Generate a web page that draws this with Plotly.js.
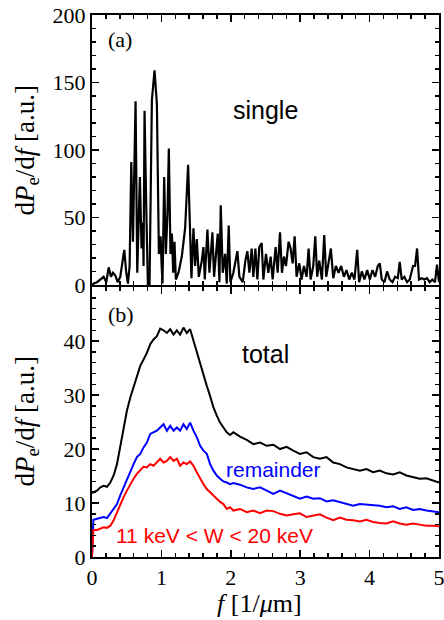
<!DOCTYPE html>
<html>
<head>
<meta charset="utf-8">
<script src="https://cdn.plot.ly/plotly-3.0.1.min.js"></script>
<style>html,body{margin:0;padding:0;background:#fff;}#chart{width:444px;height:620px;}</style>
</head>
<body>
<div id="chart"></div>
<script>
// ---- (a) single ----
const fSingle = [0,0.024,0.072,0.120,0.168,0.206,0.240,0.273,0.302,0.336,0.369,0.407,0.436,0.465,0.494,0.518,0.542,0.566,0.590,0.628,0.652,0.690,0.714,0.733,0.743,0.757,0.781,0.805,0.829,0.863,0.901,0.935,0.964,0.988,1.002,1.016,1.040,1.064,1.088,1.107,1.131,1.151,1.170,1.189,1.208,1.246,1.294,1.342,1.385,1.409,1.433,1.462,1.486,1.510,1.539,1.582,1.606,1.625,1.663,1.692,1.735,1.759,1.788,1.812,1.836,1.855,1.884,1.918,1.942,1.970,1.994,2.037,2.095,2.124,2.172,2.210,2.239,2.268,2.301,2.325,2.354,2.383,2.411,2.445,2.469,2.507,2.541,2.574,2.603,2.646,2.675,2.709,2.737,2.766,2.795,2.833,2.862,2.891,2.920,2.948,2.987,3.020,3.054,3.092,3.121,3.150,3.188,3.217,3.245,3.274,3.313,3.346,3.375,3.408,3.442,3.476,3.514,3.552,3.591,3.629,3.667,3.706,3.744,3.782,3.821,3.849,3.888,3.926,3.965,4.003,4.041,4.080,4.118,4.147,4.175,4.214,4.252,4.290,4.329,4.367,4.406,4.434,4.463,4.501,4.540,4.578,4.626,4.655,4.684,4.712,4.751,4.789,4.827,4.866,4.904,4.942,4.971,5.000];
const single = [0,1,2,4,6,2,13,6,9,7,2,6,16,26,9,1,14,91,32,136,9,80,27,46,14,129,60,0,0,137,159,134,23,36,16,1,80,23,53,101,23,38,9,32,4,9,21,42,89,38,5,42,14,34,6,18,28,4,41,9,39,6,23,38,2,59,9,23,1,44,2,9,25,6,2,18,25,9,27,6,27,4,28,31,4,23,9,21,4,28,9,39,9,21,14,32,27,16,36,6,16,4,14,6,27,4,14,36,6,18,4,37,6,16,27,5,14,9,14,6,11,4,9,4,26,2,10,4,11,4,11,6,14,16,4,2,10,4,2,6,5,17,4,6,2,4,14,14,27,4,5,4,5,2,4,2,15,2];

// ---- (b) total / remainder / 11 keV < W < 20 keV ----
const fTotal = [0,0.02,0.072,0.12,0.168,0.216,0.264,0.312,0.36,0.407,0.455,0.503,0.551,0.599,0.647,0.695,0.743,0.791,0.839,0.887,0.935,0.983,1.031,1.079,1.127,1.175,1.222,1.27,1.318,1.366,1.414,1.462,1.51,1.558,1.606,1.654,1.702,1.75,1.798,1.846,1.894,1.942,1.989,2.037,2.133,2.229,2.325,2.421,2.517,2.613,2.709,2.804,2.9,2.996,3.092,3.188,3.284,3.38,3.476,3.571,3.667,3.763,3.859,3.955,4.051,4.147,4.243,4.339,4.434,4.53,4.626,4.722,4.818,4.914,5.0];
const total = [11.8,12.0,12.3,12.9,13.2,13.0,13.8,15.1,17.2,20.3,24.0,27.1,29.5,31.4,33.5,35.4,36.6,37.8,39.4,40.3,40.9,42.3,42.0,41.5,42.2,41.2,42.0,41.2,42.5,41.5,42.2,40.0,37.8,36.0,33.5,31.7,29.8,27.7,26.2,24.9,24.0,23.1,22.6,23.1,22.3,21.7,20.9,21.2,20.6,20.8,20.0,20.4,19.7,19.1,19.4,18.5,18.2,18.5,17.5,17.2,16.6,16.3,16.0,16.3,15.7,16.0,15.5,15.3,15.7,15.1,14.8,14.5,14.6,14.2,13.8];
const remainder = [0,6.9,7.1,7.2,7.4,7.2,8.0,8.9,9.8,11.4,12.9,14.2,15.7,17.2,18.5,19.1,20.3,21.2,22.8,23.1,23.4,24.0,24.6,23.4,24.3,23.4,24.0,23.4,24.6,23.7,24.9,23.4,22.2,20.6,19.7,19.1,17.2,16.0,15.1,14.5,14.0,13.8,13.5,13.7,13.4,12.9,12.6,12.9,12.3,11.7,12.3,11.8,11.4,10.8,11.2,10.8,10.9,10.3,10.5,10.2,9.8,9.5,9.8,9.7,9.5,9.5,9.2,9.4,8.9,9.2,8.7,8.9,8.6,8.5,8.3];
const band = [0,5.0,5.0,5.2,5.5,5.4,5.8,6.8,8.3,9.8,11.1,12.3,13.5,14.5,15.4,16.0,16.7,16.6,17.2,16.9,17.5,18.2,17.5,17.8,18.5,17.8,18.2,16.9,17.5,17.2,17.7,16.9,15.7,14.5,13.5,12.6,12.0,11.4,10.8,10.2,9.8,8.9,9.2,8.6,8.9,8.3,8.6,8.1,8.6,8.5,8.0,7.7,7.9,8.1,7.4,7.7,7.9,7.3,6.8,7.3,6.9,6.8,6.6,6.9,6.5,6.3,6.2,6.6,6.2,6.0,6.2,6.0,5.8,5.8,5.7];

const xTicks = [0,1,2,3,4,5];
const yTicksA = [0,50,100,150,200];
const yTicksB = [0,10,20,30,40];

const serif = 'Liberation Serif, Times New Roman, serif';
const sans = 'Liberation Sans, Arial, sans-serif';

const traces = [
  {x: fSingle, y: single, xaxis: 'x2', yaxis: 'y2', mode: 'lines', line: {color: '#000', width: 2.2}, hoverinfo: 'skip'},
  {x: fTotal, y: total, xaxis: 'x', yaxis: 'y', mode: 'lines', line: {color: '#000', width: 2}, hoverinfo: 'skip'},
  {x: fTotal, y: remainder, xaxis: 'x', yaxis: 'y', mode: 'lines', line: {color: '#0000ff', width: 2}, hoverinfo: 'skip'},
  {x: fTotal, y: band, xaxis: 'x', yaxis: 'y', mode: 'lines', line: {color: '#ff0000', width: 2}, hoverinfo: 'skip'}
];

function axisCommon() {
  return {
    showline: true, linecolor: '#000', linewidth: 2, mirror: 'allticks',
    ticks: 'inside', ticklen: 7, tickwidth: 1.5, tickcolor: '#000',
    showgrid: false, zeroline: false, ticklabeloverflow: 'allow',
    tickfont: {family: serif, size: 22, color: '#000'}
  };
}

const layout = {
  width: 444, height: 620,
  margin: {l: 92, r: 5, t: 15, b: 63},
  paper_bgcolor: '#fff', plot_bgcolor: '#fff',
  showlegend: false,
  xaxis: Object.assign(axisCommon(), {
    domain: [0, 1], anchor: 'y', range: [0, 5],
    tickmode: 'array', tickvals: xTicks, ticktext: xTicks.map(String),
    minor: {dtick: 0.2, ticks: 'inside', ticklen: 4, tickcolor: '#000', tickwidth: 1.5}
  }),
  xaxis2: Object.assign(axisCommon(), {
    domain: [0, 1], anchor: 'y2', range: [0, 5], matches: 'x',
    tickmode: 'array', tickvals: xTicks, showticklabels: false,
    minor: {dtick: 0.2, ticks: 'inside', ticklen: 4, tickcolor: '#000', tickwidth: 1.5}
  }),
  yaxis: Object.assign(axisCommon(), {
    domain: [0, 0.498], anchor: 'x', range: [0, 50],
    tickmode: 'array', tickvals: yTicksB, ticktext: yTicksB.map(String),
    minor: {dtick: 2, ticks: 'inside', ticklen: 4, tickcolor: '#000', tickwidth: 1.5}
  }),
  yaxis2: Object.assign(axisCommon(), {
    domain: [0.502, 1], anchor: 'x2', range: [0, 200],
    tickmode: 'array', tickvals: yTicksA, ticktext: yTicksA.map(String),
    minor: {dtick: 10, ticks: 'inside', ticklen: 4, tickcolor: '#000', tickwidth: 1.5}
  }),
  annotations: [
    {text: '(a)', xref: 'paper', yref: 'paper', x: 0.040, y: 0.954, xanchor: 'left', yanchor: 'middle', showarrow: false, font: {family: serif, size: 22, color: '#000'}},
    {text: '(b)', xref: 'paper', yref: 'paper', x: 0.040, y: 0.448, xanchor: 'left', yanchor: 'middle', showarrow: false, font: {family: serif, size: 22, color: '#000'}},
    {text: 'single', xref: 'paper', yref: 'paper', x: 0.499, y: 0.825, xanchor: 'center', yanchor: 'middle', showarrow: false, font: {family: sans, size: 25, color: '#000'}},
    {text: 'total', xref: 'paper', yref: 'paper', x: 0.499, y: 0.3745, xanchor: 'center', yanchor: 'middle', showarrow: false, font: {family: sans, size: 25, color: '#000'}},
    {text: 'remainder', xref: 'paper', yref: 'paper', x: 0.523, y: 0.162, xanchor: 'center', yanchor: 'middle', showarrow: false, font: {family: sans, size: 21, color: '#0000ff'}},
    {text: '11 keV &lt; W &lt; 20 keV', xref: 'paper', yref: 'paper', x: 0.352, y: 0.039, xanchor: 'center', yanchor: 'middle', showarrow: false, font: {family: sans, size: 21, color: '#ff0000'}},
    {text: 'd<i>P</i><sub>e</sub>/d<i>f</i> [a.u.]', xref: 'paper', yref: 'paper', x: -0.19, y: 0.75, xanchor: 'center', yanchor: 'middle', textangle: -90, showarrow: false, font: {family: serif, size: 27, color: '#000'}},
    {text: 'd<i>P</i><sub>e</sub>/d<i>f</i> [a.u.]', xref: 'paper', yref: 'paper', x: -0.19, y: 0.25, xanchor: 'center', yanchor: 'middle', textangle: -90, showarrow: false, font: {family: serif, size: 27, color: '#000'}},
    {text: '<i>f</i> [1/<i>μ</i>m]', xref: 'paper', yref: 'paper', x: 0.484, y: -0.085, xanchor: 'center', yanchor: 'middle', showarrow: false, font: {family: serif, size: 26, color: '#000'}}
  ]
};

Plotly.newPlot('chart', traces, layout, {staticPlot: true, displayModeBar: false});
</script>
</body>
</html>
